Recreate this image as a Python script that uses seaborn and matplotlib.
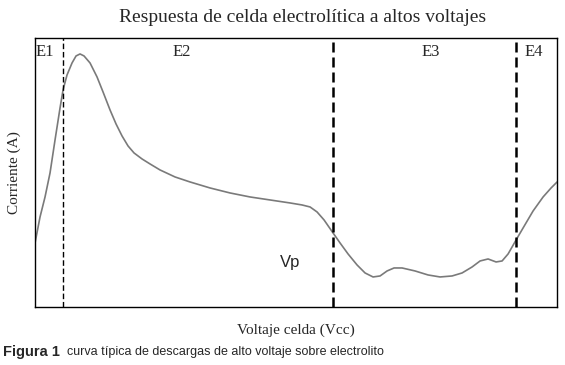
import numpy as np
import pandas as pd
import seaborn as sns
import matplotlib.pyplot as plt

# curve (arbitrary units, no ticks on the original)
voltage = [0, 5, 10, 15, 20, 25, 28, 32, 37, 41, 45, 49, 55, 62, 68, 75, 81, 87, 93, 99,
           107, 115, 125, 140, 155, 175, 195, 215, 235, 255, 267, 275, 282, 289, 298, 305,
           313, 322, 330, 338, 345, 352, 359, 367, 380, 393, 405, 417, 427, 437, 445, 453,
           461, 467, 473, 481, 488, 498, 508, 516, 522]
current = [64, 90, 110, 134, 167, 199, 217, 232, 244, 251, 253, 251, 244, 230, 215, 197, 183,
           171, 161, 154, 148, 143, 137, 130, 125, 119, 114, 110, 107, 104, 102, 100, 95, 87,
           74, 64, 53, 42, 34, 30, 31, 36, 39, 39, 36, 32, 30, 31, 34, 40, 46, 48, 45, 46, 53,
           67, 79, 96, 110, 119, 125]

# region boundaries and labels
boundaries = [28, 298, 481]
zone_labels = ["E1", "E2", "E3", "E4"]
zone_label_x = [0.5, 137, 386, 489]

df = pd.DataFrame({"Voltaje": voltage, "Corriente": current})

sns.set_style("white")
plt.rcParams['font.family'] = ['Liberation Serif', 'DejaVu Serif']

fig = plt.figure(figsize=(5.65, 3.65), dpi=100)
ax = fig.add_axes([0.062, 0.159, 0.924, 0.737])

sns.lineplot(data=df, x="Voltaje", y="Corriente", ax=ax, color="#7a7a7a", linewidth=1.2)

for i, b in enumerate(boundaries):
    lw = 1.0 if i == 0 else 1.8
    ax.axvline(b, color="black", linestyle=(0, (4, 2)), linewidth=lw)

for lab, lx in zip(zone_labels, zone_label_x):
    ax.text(lx, 263, lab, fontsize=12, va="top", ha="left")

ax.text(245, 44, "Vp", fontsize=12, family=['Liberation Sans', 'DejaVu Sans'], va="center")

ax.set_xlim(0, 522)
ax.set_ylim(0, 269)
ax.set_xticks([])
ax.set_yticks([])
for s in ax.spines.values():
    s.set_color("black")
    s.set_linewidth(1.0)

ax.set_xlabel("Voltaje celda (Vcc)", fontsize=11, labelpad=12)
ax.set_ylabel("Corriente (A)", fontsize=11, labelpad=10)

fig.text(0.535, 0.952, "Respuesta de celda electrolítica a altos voltajes", fontsize=14,
         ha="center", va="center")

fig.text(0.005, 0.035, "Figura 1", fontsize=10.5, weight="bold",
         family=['Liberation Sans', 'DejaVu Sans'], va="center", ha="left")
fig.text(0.119, 0.035, "curva típica de descargas de alto voltaje sobre electrolito", fontsize=9,
         family=['Liberation Sans', 'DejaVu Sans'], va="center", ha="left")

fig.savefig("out.png", dpi=100)
